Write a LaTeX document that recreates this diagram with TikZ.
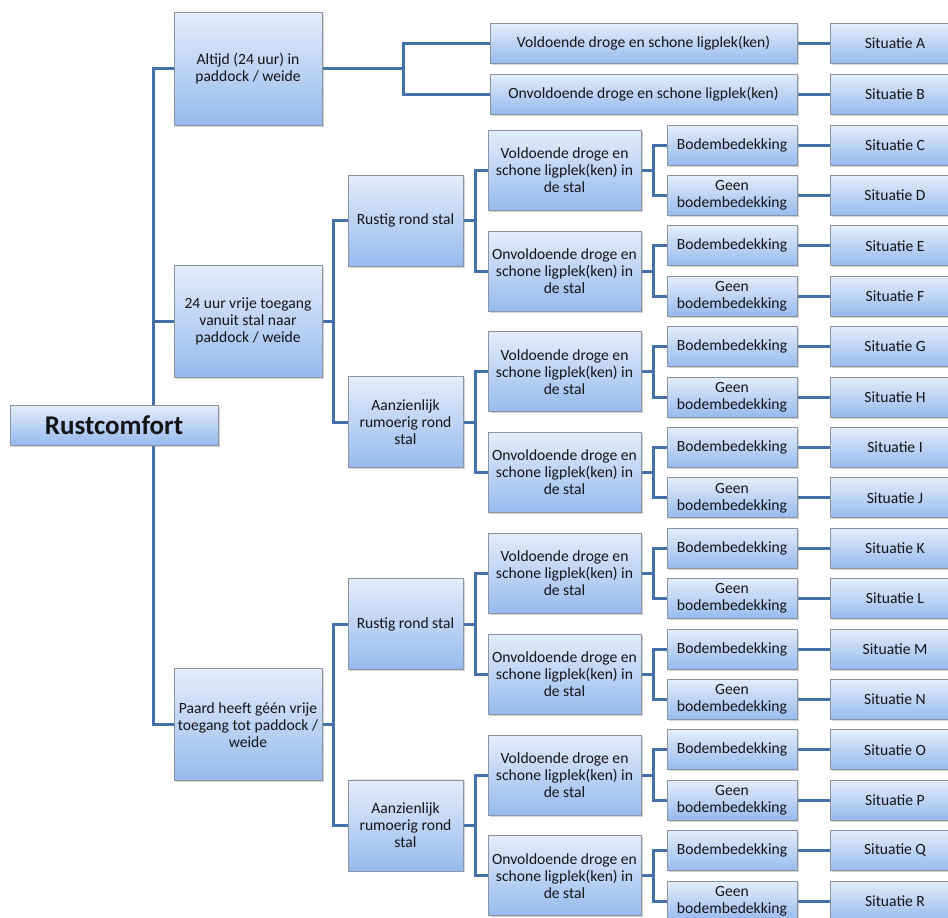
\documentclass[tikz,border=0pt]{standalone}
\usepackage{fontspec}
\setmainfont{Carlito}
\usetikzlibrary{shadows,backgrounds}
\definecolor{boxtop}{RGB}{228,237,250}
\definecolor{boxbot}{RGB}{150,186,238}
\definecolor{boxline}{RGB}{140,148,162}
\definecolor{linkblue}{RGB}{70,112,170}
\definecolor{txt}{RGB}{20,20,24}
\begin{document}
\begin{tikzpicture}[x=1pt,y=1pt]
  \tikzstyle{every node}+=[inner sep=0pt, align=center, text=txt, font=\fontsize{15.6}{17}\selectfont]
  \tikzstyle{box}=[draw=boxline, line width=0.8pt, top color=boxtop, bottom color=boxbot,
    drop shadow={shadow xshift=1.5pt, shadow yshift=-1.5pt, opacity=0.35}]
  \tikzstyle{link}=[draw=linkblue, line width=3pt]
  \useasboundingbox (0,0) rectangle (948,-918);
  \clip (0,0) rectangle (948,-918);
  % root
  \node [box, minimum width=208, minimum height=40, font=\fontsize{27}{30}\bfseries] (root) at (114,-425) {Rustcomfort};
  % first level
  \node [box, minimum width=148, minimum height=113] (alt) at (248,-68.5) {Altijd (24 uur) in\\paddock / weide};
  \node [box, minimum width=148, minimum height=112] (vrij) at (248,-321.4) {24 uur vrije toegang\\vanuit stal naar\\paddock / weide};
  \node [box, minimum width=148, minimum height=112] (geen) at (248,-724.7) {Paard heeft géén vrije\\toegang tot paddock /\\weide};
  % always outside
  \node [box, minimum width=307, minimum height=40] (va) at (643.5,-43.5) {Voldoende droge en schone ligplek(ken)};
  \node [box, minimum width=307, minimum height=40] (oa) at (643.5,-94) {Onvoldoende droge en schone ligplek(ken)};
  % second level
  \node [box, minimum width=115, minimum height=91] (rus1) at (405.5,-220.6) {Rustig rond stal};
  \node [box, minimum width=115, minimum height=91] (rum1) at (405.5,-422.2) {Aanzienlijk\\rumoerig rond\\stal};
  \node [box, minimum width=115, minimum height=91] (rus2) at (405.5,-624) {Rustig rond stal};
  \node [box, minimum width=115, minimum height=91] (rum2) at (405.5,-825.4) {Aanzienlijk\\rumoerig rond\\stal};
  % third level
  \node [box, minimum width=153, minimum height=80] (l1) at (564.5,-170.2) {Voldoende droge en\\schone ligplek(ken) in\\de stal};
  \node [box, minimum width=153, minimum height=80] (l2) at (564.5,-271) {Onvoldoende droge en\\schone ligplek(ken) in\\de stal};
  \node [box, minimum width=153, minimum height=80] (l3) at (564.5,-371.8) {Voldoende droge en\\schone ligplek(ken) in\\de stal};
  \node [box, minimum width=153, minimum height=80] (l4) at (564.5,-472.6) {Onvoldoende droge en\\schone ligplek(ken) in\\de stal};
  \node [box, minimum width=153, minimum height=80] (l5) at (564.5,-573.4) {Voldoende droge en\\schone ligplek(ken) in\\de stal};
  \node [box, minimum width=153, minimum height=80] (l6) at (564.5,-674.2) {Onvoldoende droge en\\schone ligplek(ken) in\\de stal};
  \node [box, minimum width=153, minimum height=80] (l7) at (564.5,-775) {Voldoende droge en\\schone ligplek(ken) in\\de stal};
  \node [box, minimum width=153, minimum height=80] (l8) at (564.5,-875.8) {Onvoldoende droge en\\schone ligplek(ken) in\\de stal};
  % fourth level
  \node [box, minimum width=130, minimum height=40] (b1) at (732,-145) {Bodembedekking};
  \node [box, minimum width=130, minimum height=40] (b2) at (732,-195.4) {Geen\\bodembedekking};
  \node [box, minimum width=130, minimum height=40] (b3) at (732,-245.8) {Bodembedekking};
  \node [box, minimum width=130, minimum height=40] (b4) at (732,-296.2) {Geen\\bodembedekking};
  \node [box, minimum width=130, minimum height=40] (b5) at (732,-346.6) {Bodembedekking};
  \node [box, minimum width=130, minimum height=40] (b6) at (732,-397) {Geen\\bodembedekking};
  \node [box, minimum width=130, minimum height=40] (b7) at (732,-447.4) {Bodembedekking};
  \node [box, minimum width=130, minimum height=40] (b8) at (732,-497.8) {Geen\\bodembedekking};
  \node [box, minimum width=130, minimum height=40] (b9) at (732,-548.2) {Bodembedekking};
  \node [box, minimum width=130, minimum height=40] (b10) at (732,-598.6) {Geen\\bodembedekking};
  \node [box, minimum width=130, minimum height=40] (b11) at (732,-649) {Bodembedekking};
  \node [box, minimum width=130, minimum height=40] (b12) at (732,-699.4) {Geen\\bodembedekking};
  \node [box, minimum width=130, minimum height=40] (b13) at (732,-749.8) {Bodembedekking};
  \node [box, minimum width=130, minimum height=40] (b14) at (732,-800.2) {Geen\\bodembedekking};
  \node [box, minimum width=130, minimum height=40] (b15) at (732,-850.6) {Bodembedekking};
  \node [box, minimum width=130, minimum height=40] (b16) at (732,-901) {Geen\\bodembedekking};
  % situaties
  \node [box, minimum width=130, minimum height=40] (sa) at (895,-43.5) {Situatie A};
  \node [box, minimum width=130, minimum height=40] (sb) at (895,-94) {Situatie B};
  \node [box, minimum width=130, minimum height=40] (sc) at (895,-145) {Situatie C};
  \node [box, minimum width=130, minimum height=40] (sd) at (895,-195.4) {Situatie D};
  \node [box, minimum width=130, minimum height=40] (se) at (895,-245.8) {Situatie E};
  \node [box, minimum width=130, minimum height=40] (sf) at (895,-296.2) {Situatie F};
  \node [box, minimum width=130, minimum height=40] (sg) at (895,-346.6) {Situatie G};
  \node [box, minimum width=130, minimum height=40] (sh) at (895,-397) {Situatie H};
  \node [box, minimum width=130, minimum height=40] (si) at (895,-447.4) {Situatie I};
  \node [box, minimum width=130, minimum height=40] (sj) at (895,-497.8) {Situatie J};
  \node [box, minimum width=130, minimum height=40] (sk) at (895,-548.2) {Situatie K};
  \node [box, minimum width=130, minimum height=40] (sl) at (895,-598.6) {Situatie L};
  \node [box, minimum width=130, minimum height=40] (sm) at (895,-649) {Situatie M};
  \node [box, minimum width=130, minimum height=40] (sn) at (895,-699.4) {Situatie N};
  \node [box, minimum width=130, minimum height=40] (so) at (895,-749.8) {Situatie O};
  \node [box, minimum width=130, minimum height=40] (sp) at (895,-800.2) {Situatie P};
  \node [box, minimum width=130, minimum height=40] (sq) at (895,-850.6) {Situatie Q};
  \node [box, minimum width=130, minimum height=40] (sr) at (895,-901) {Situatie R};
  % connectors
  \begin{pgfonlayer}{background}
  \coordinate (trunk) at (153,-425);
  \draw [link] (alt.west) -| (trunk) |- (geen.west);
  \draw [link] (vrij.west) -- (vrij.west -| trunk);
  \draw [link] (alt.east) -- ++(81,0) |- (va.west) (alt.east) ++(81,0) |- (oa.west);
  \draw [link] (vrij.east) -- ++(11,0) |- (rus1.west) (vrij.east) ++(11,0) |- (rum1.west);
  \draw [link] (geen.east) -- ++(11,0) |- (rus2.west) (geen.east) ++(11,0) |- (rum2.west);
  \draw [link] (rus1.east) -- ++(12,0) |- (l1.west) (rus1.east) ++(12,0) |- (l2.west);
  \draw [link] (rum1.east) -- ++(12,0) |- (l3.west) (rum1.east) ++(12,0) |- (l4.west);
  \draw [link] (rus2.east) -- ++(12,0) |- (l5.west) (rus2.east) ++(12,0) |- (l6.west);
  \draw [link] (rum2.east) -- ++(12,0) |- (l7.west) (rum2.east) ++(12,0) |- (l8.west);
  \draw [link] (l1.east) -- ++(12.5,0) |- (b1.west) (l1.east) ++(12.5,0) |- (b2.west);
  \draw [link] (l2.east) -- ++(12.5,0) |- (b3.west) (l2.east) ++(12.5,0) |- (b4.west);
  \draw [link] (l3.east) -- ++(12.5,0) |- (b5.west) (l3.east) ++(12.5,0) |- (b6.west);
  \draw [link] (l4.east) -- ++(12.5,0) |- (b7.west) (l4.east) ++(12.5,0) |- (b8.west);
  \draw [link] (l5.east) -- ++(12.5,0) |- (b9.west) (l5.east) ++(12.5,0) |- (b10.west);
  \draw [link] (l6.east) -- ++(12.5,0) |- (b11.west) (l6.east) ++(12.5,0) |- (b12.west);
  \draw [link] (l7.east) -- ++(12.5,0) |- (b13.west) (l7.east) ++(12.5,0) |- (b14.west);
  \draw [link] (l8.east) -- ++(12.5,0) |- (b15.west) (l8.east) ++(12.5,0) |- (b16.west);
  \draw [link] (va) -- (sa) (oa) -- (sb) (b1) -- (sc) (b2) -- (sd) (b3) -- (se) (b4) -- (sf);
  \draw [link] (b5) -- (sg) (b6) -- (sh) (b7) -- (si) (b8) -- (sj) (b9) -- (sk) (b10) -- (sl);
  \draw [link] (b11) -- (sm) (b12) -- (sn) (b13) -- (so) (b14) -- (sp) (b15) -- (sq) (b16) -- (sr);
  \end{pgfonlayer}
\end{tikzpicture}
\end{document}
